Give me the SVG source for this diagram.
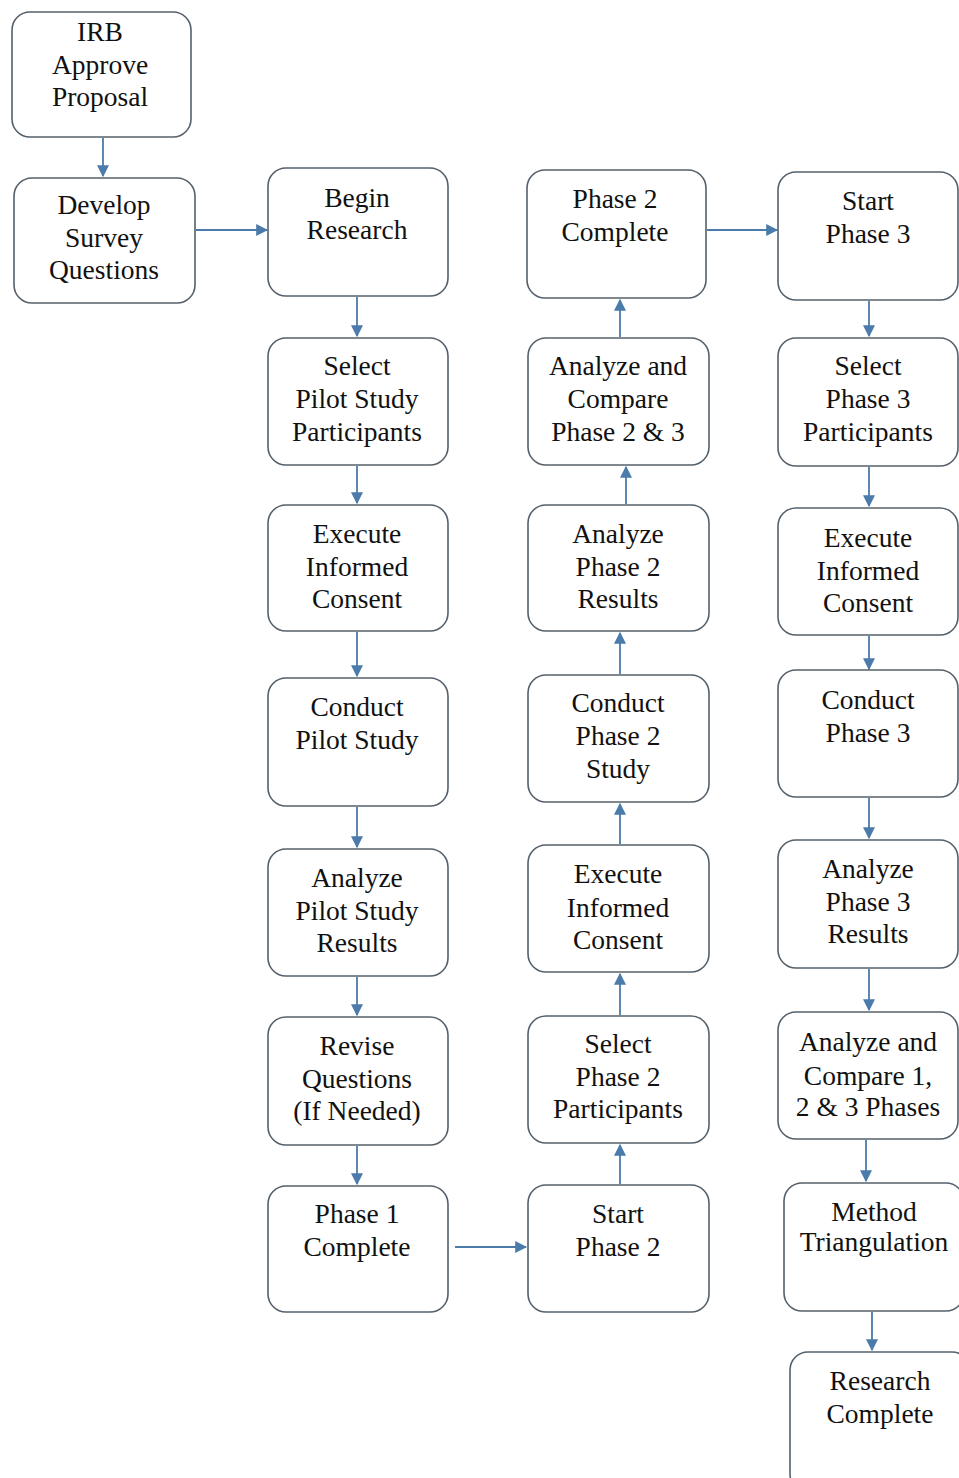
<svg xmlns="http://www.w3.org/2000/svg" width="959" height="1478" viewBox="0 0 959 1478">
<style>
.box{fill:#fff;stroke:#55606b;stroke-width:1.6}
.t{font-family:"Liberation Serif","Times New Roman",serif;font-size:27.5px;fill:#111;text-anchor:middle}
.c{stroke:#4b7bab;stroke-width:1.8;fill:none;marker-end:url(#ah)}
</style>
<defs>
<marker id="ah" viewBox="0 0 10 10" refX="9" refY="5" markerWidth="12" markerHeight="13" markerUnits="userSpaceOnUse" orient="auto">
<path d="M0,0 L10,5 L0,10 z" fill="#4b7bab"/>
</marker>
</defs>
<rect width="959" height="1478" fill="#fff"/>
<g id="connectors">
<path class="c" d="M103,138 V176"/>
<path class="c" d="M196,230 H267"/>
<path class="c" d="M357,297 V336"/>
<path class="c" d="M357,466 V503"/>
<path class="c" d="M357,632 V676"/>
<path class="c" d="M357,807 V847"/>
<path class="c" d="M357,977 V1015"/>
<path class="c" d="M357,1146 V1184"/>
<path class="c" d="M455,1247 H526"/>
<path class="c" d="M620,1184 V1145"/>
<path class="c" d="M620,1015 V974"/>
<path class="c" d="M620,844 V804"/>
<path class="c" d="M620,674 V633"/>
<path class="c" d="M626,504 V467"/>
<path class="c" d="M620,337 V300"/>
<path class="c" d="M707,230 H777"/>
<path class="c" d="M869,301 V336"/>
<path class="c" d="M869,467 V506"/>
<path class="c" d="M869,636 V669"/>
<path class="c" d="M869,798 V838"/>
<path class="c" d="M869,969 V1010"/>
<path class="c" d="M866,1140 V1181"/>
<path class="c" d="M872,1312 V1350"/>
</g>
<g id="n1"><rect class="box" x="12" y="12" width="179" height="125" rx="18"/>
<text class="t" x="100" y="41">IRB</text><text class="t" x="100" y="74">Approve</text><text class="t" x="100" y="106">Proposal</text></g>
<g id="n2"><rect class="box" x="14" y="178" width="181" height="125" rx="18"/>
<text class="t" x="104" y="214">Develop</text><text class="t" x="104" y="247">Survey</text><text class="t" x="104" y="279">Questions</text></g>
<g id="n3"><rect class="box" x="268" y="168" width="180" height="128" rx="18"/>
<text class="t" x="357" y="207">Begin</text><text class="t" x="357" y="239">Research</text></g>
<g id="n4"><rect class="box" x="268" y="338" width="180" height="127" rx="18"/>
<text class="t" x="357" y="375">Select</text><text class="t" x="357" y="408">Pilot Study</text><text class="t" x="357" y="441">Participants</text></g>
<g id="n5"><rect class="box" x="268" y="505" width="180" height="126" rx="18"/>
<text class="t" x="357" y="543">Execute</text><text class="t" x="357" y="576">Informed</text><text class="t" x="357" y="608">Consent</text></g>
<g id="n6"><rect class="box" x="268" y="678" width="180" height="128" rx="18"/>
<text class="t" x="357" y="716">Conduct</text><text class="t" x="357" y="749">Pilot Study</text></g>
<g id="n7"><rect class="box" x="268" y="849" width="180" height="127" rx="18"/>
<text class="t" x="357" y="887">Analyze</text><text class="t" x="357" y="920">Pilot Study</text><text class="t" x="357" y="952">Results</text></g>
<g id="n8"><rect class="box" x="268" y="1017" width="180" height="128" rx="18"/>
<text class="t" x="357" y="1055">Revise</text><text class="t" x="357" y="1088">Questions</text><text class="t" x="357" y="1120">(If Needed)</text></g>
<g id="n9"><rect class="box" x="268" y="1186" width="180" height="126" rx="18"/>
<text class="t" x="357" y="1223">Phase 1</text><text class="t" x="357" y="1256">Complete</text></g>
<g id="n10"><rect class="box" x="528" y="1185" width="181" height="127" rx="18"/>
<text class="t" x="618" y="1223">Start</text><text class="t" x="618" y="1256">Phase 2</text></g>
<g id="n11"><rect class="box" x="528" y="1016" width="181" height="127" rx="18"/>
<text class="t" x="618" y="1053">Select</text><text class="t" x="618" y="1086">Phase 2</text><text class="t" x="618" y="1118">Participants</text></g>
<g id="n12"><rect class="box" x="528" y="845" width="181" height="127" rx="18"/>
<text class="t" x="618" y="883">Execute</text><text class="t" x="618" y="917">Informed</text><text class="t" x="618" y="949">Consent</text></g>
<g id="n13"><rect class="box" x="528" y="675" width="181" height="127" rx="18"/>
<text class="t" x="618" y="712">Conduct</text><text class="t" x="618" y="745">Phase 2</text><text class="t" x="618" y="778">Study</text></g>
<g id="n14"><rect class="box" x="528" y="505" width="181" height="126" rx="18"/>
<text class="t" x="618" y="543">Analyze</text><text class="t" x="618" y="576">Phase 2</text><text class="t" x="618" y="608">Results</text></g>
<g id="n15"><rect class="box" x="528" y="338" width="181" height="127" rx="18"/>
<text class="t" x="618" y="375">Analyze and</text><text class="t" x="618" y="408">Compare</text><text class="t" x="618" y="441">Phase 2 &amp; 3</text></g>
<g id="n16"><rect class="box" x="527" y="170" width="179" height="128" rx="18"/>
<text class="t" x="615" y="208">Phase 2</text><text class="t" x="615" y="241">Complete</text></g>
<g id="n17"><rect class="box" x="778" y="172" width="180" height="128" rx="18"/>
<text class="t" x="868" y="210">Start</text><text class="t" x="868" y="243">Phase 3</text></g>
<g id="n18"><rect class="box" x="778" y="338" width="180" height="128" rx="18"/>
<text class="t" x="868" y="375">Select</text><text class="t" x="868" y="408">Phase 3</text><text class="t" x="868" y="441">Participants</text></g>
<g id="n19"><rect class="box" x="778" y="508" width="180" height="127" rx="18"/>
<text class="t" x="868" y="547">Execute</text><text class="t" x="868" y="580">Informed</text><text class="t" x="868" y="612">Consent</text></g>
<g id="n20"><rect class="box" x="778" y="670" width="180" height="127" rx="18"/>
<text class="t" x="868" y="709">Conduct</text><text class="t" x="868" y="742">Phase 3</text></g>
<g id="n21"><rect class="box" x="778" y="840" width="180" height="128" rx="18"/>
<text class="t" x="868" y="878">Analyze</text><text class="t" x="868" y="911">Phase 3</text><text class="t" x="868" y="943">Results</text></g>
<g id="n22"><rect class="box" x="778" y="1012" width="180" height="127" rx="18"/>
<text class="t" x="868" y="1051">Analyze and</text><text class="t" x="868" y="1085">Compare 1,</text><text class="t" x="868" y="1116">2 &amp; 3 Phases</text></g>
<g id="n23"><rect class="box" x="784" y="1183" width="180" height="128" rx="18"/>
<text class="t" x="874" y="1221">Method</text><text class="t" x="874" y="1251">Triangulation</text></g>
<g id="n24"><rect class="box" x="790" y="1352" width="180" height="140" rx="18"/>
<text class="t" x="880" y="1390">Research</text><text class="t" x="880" y="1423">Complete</text></g>
</svg>
